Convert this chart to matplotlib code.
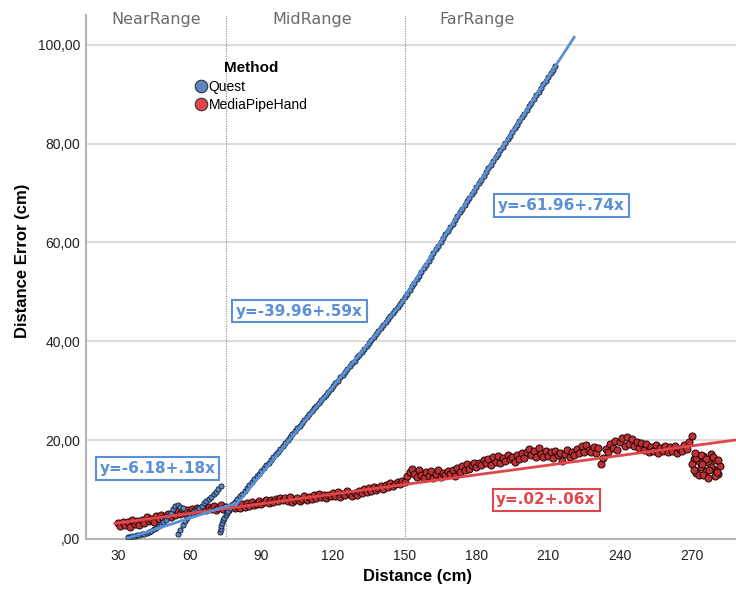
import numpy as np
import matplotlib
matplotlib.use("Agg")
from matplotlib import pyplot as plt
from matplotlib.lines import Line2D

# ---- data ----
# Quest, near range (three short branches)
quest_near_x = [34, 35, 36, 37, 38, 39, 40, 41, 42, 43, 44, 45, 46, 47, 48, 49, 50, 51, 52, 53, 54, 55, 56, 57,
                55, 56, 57, 58, 59, 60, 61, 62, 63, 64, 65, 66, 67, 68, 69, 70, 71, 72, 73,
                72.8, 73, 73.3, 73.6, 74, 74.5, 75, 75.5, 76, 77]
quest_near_y = [0.5, 0.5, 0.6, 0.7, 0.8, 0.9, 1.0, 1.1, 1.3, 1.5, 1.7, 2.0, 2.3, 2.7, 3.0, 3.4, 3.9, 4.6, 5.3, 6.0, 6.6, 6.9, 6.5, 6.2,
                1.0, 1.8, 2.8, 3.6, 4.3, 4.8, 5.2, 5.6, 5.9, 6.3, 6.7, 7.2, 7.7, 8.1, 8.5, 9.1, 9.6, 10.2, 10.8,
                1.4, 2.0, 2.6, 3.2, 3.8, 4.3, 4.8, 5.2, 5.6, 6.2]
# Quest, 78..213 cm
quest_x = np.arange(78, 214)
quest_y = [6.9, 7.4, 8.0, 8.6, 9.2, 9.8, 10.4, 11.0, 11.5, 12.1, 12.7, 13.2, 13.8, 14.3, 14.9, 15.4, 16.0, 16.5, 17.1, 17.7, 18.2, 18.8, 19.4,
           20.1, 20.6, 21.2, 21.8, 22.4, 22.9, 23.5, 24.1, 24.7, 25.2,
           25.8, 26.4, 27.0, 27.5, 28.1, 28.7, 29.2, 29.8, 30.4, 30.9,
           31.5, 32.0, 32.7, 33.2, 33.8, 34.4, 34.9, 35.6, 36.1, 36.8,
           37.3, 37.9, 38.5, 39.1, 39.6, 40.3, 40.9, 41.5, 42.1, 42.7,
           43.3, 43.9, 44.5, 45.1, 45.7, 46.3, 46.9, 47.6, 48.2, 48.9,
           49.6, 50.3, 51.1, 51.8, 52.6, 53.3, 54.1, 54.8, 55.5, 56.3,
           57.0, 57.8, 58.6, 59.3, 60.1, 60.8, 61.6, 62.3, 63.1, 63.8,
           64.6, 65.3, 66.1, 66.8, 67.5, 68.3, 69.0, 69.8, 70.5, 71.2,
           72.0, 72.7, 73.5, 74.2, 75.0, 75.7, 76.5, 77.2, 77.9, 78.7,
           79.4, 80.1, 80.9, 81.6, 82.4, 83.1, 83.8, 84.6, 85.3, 86.0,
           86.8, 87.5, 88.3, 89.0, 89.8, 90.5, 91.2, 92.0, 92.7, 93.4,
           94.2, 94.9, 95.6]

# MediaPipeHand, 30..282 cm
mph_x = np.arange(30, 283)
mph_y = [3.2, 2.6, 3.5, 2.9, 3.4, 2.5, 3.8, 3.1, 3.6, 2.8,
         3.9, 3.3, 4.4, 3.6, 4.1, 3.5, 4.6, 4.0, 4.8, 4.2,
         4.6, 5.1, 4.4, 5.3, 4.9, 5.6, 5.0, 5.8, 5.2, 5.9,
         5.5, 6.1, 5.4, 6.3, 5.7, 6.0, 6.5, 5.8, 6.4, 6.0,
         6.6, 5.9, 6.3, 6.8, 6.1, 6.5, 5.8, 6.4, 6.9, 6.2,
         6.7, 6.3, 7.0, 6.5, 7.2, 6.6, 7.4, 6.9, 7.1, 7.6,
         7.0, 7.5, 7.8, 7.2, 7.9, 7.4, 8.1, 7.6, 8.3, 7.8,
         8.2, 7.7, 8.5, 7.5, 7.9, 8.3, 7.6, 8.0, 8.6, 7.8,
         8.4, 8.0, 8.8, 8.2, 9.2, 8.5, 8.9, 8.3, 9.0, 8.6,
         9.3, 8.7, 9.5, 8.4, 9.1, 8.8, 9.8, 9.2, 8.6, 9.4,
         8.9, 9.7, 9.3, 10.1, 9.5, 10.3, 9.8, 10.5, 10.0, 10.4,
         10.8, 10.2, 11.0, 10.5, 11.3, 10.7, 11.1, 11.6, 11.2, 11.8,
         11.5, 12.8, 13.6, 14.2, 13.1, 12.5, 13.9, 12.9, 12.3, 13.5,
         12.7, 13.8, 12.4, 13.2, 14.0, 12.6, 13.4, 12.9, 13.7, 13.1,
         13.9, 12.8, 14.3, 13.6, 14.8, 13.9, 15.1, 14.2, 14.9, 15.3,
         14.6, 15.4, 14.9, 16.0, 15.3, 16.2, 15.0, 16.5, 15.6, 16.8,
         15.4, 16.3, 15.7, 17.0, 16.1, 16.6, 15.5, 16.9, 16.2, 17.3,
         16.4, 17.6, 18.2, 16.9, 17.8, 16.6, 18.4, 17.2, 16.5, 17.9,
         16.8, 17.5, 16.3, 17.8, 16.9, 17.4, 15.8, 17.1, 18.0, 16.6,
         17.7, 16.9, 18.3, 17.4, 18.8, 17.6, 19.0, 18.1, 17.5, 18.6,
         17.3, 18.4, 15.2, 16.4, 18.2, 17.6, 19.3, 18.5, 19.8, 18.0,
         19.6, 20.4, 18.8, 20.7, 19.2, 20.3, 18.9, 19.7, 18.4, 19.5,
         18.1, 19.2, 17.6, 18.7, 17.9, 19.0, 17.4, 18.5, 17.8, 18.9,
         17.5, 18.6, 17.9, 18.8, 17.4, 18.3, 17.8, 19.0, 18.2, 19.6,
         20.8, 16.2, 13.4, 15.8, 14.6, 16.7, 13.8, 15.5, 17.1, 14.2,
         15.9, 13.2, 14.8]
# extra readings in the drop-off cluster at the far end
mph_extra_x = [270, 271, 272, 273, 274, 275, 276, 277, 278, 279, 280, 281, 271.5, 274.5, 277.5, 280.5]
mph_extra_y = [15.1, 14.0, 16.3, 12.9, 17.0, 13.0, 16.1, 12.4, 14.5, 16.6, 12.8, 16.0, 17.3, 15.2, 14.0, 13.5]

# fit lines: (x start, x end, intercept, slope)
quest_fit_x0 = [33.6, 79.0, 150.0]
quest_fit_x1 = [79.7, 150.0, 221.2]
quest_fit_b = [-5.14, -39.96, -61.96]
quest_fit_m = [0.156, 0.59, 0.74]
mph_fit_x = [28.7, 289.0]
mph_fit_b, mph_fit_m = 1.28, 0.065

quest_labels = ["y=-6.18+.18x", "y=-39.96+.59x", "y=-61.96+.74x"]
quest_label_pos = [(46.5, 14.2), (105.9, 46.1), (215.6, 67.5)]
mph_label = "y=.02+.06x"
mph_label_pos = (209.1, 7.9)

range_names = ["NearRange", "MidRange", "FarRange"]
range_centers = [45.9, 111.2, 180.2]
range_bounds = [75, 150]

x_ticks = [30, 60, 90, 120, 150, 180, 210, 240, 270]
y_ticks = [0, 20, 40, 60, 80, 100]
y_tick_labels = [",00", "20,00", "40,00", "60,00", "80,00", "100,00"]

BLUE = "#5b8fd6"
RED = "#e0474c"
BLUE_DOT = "#5a86c8"
RED_DOT = "#bf3036"
GRID = "#dcdcdc"
SPINE = "#b4b4b4"

fig = plt.figure(figsize=(7.36, 5.89), dpi=100)
ax = fig.add_axes([0.1168, 0.0849, 0.8832, 0.8896])
ax.set_xlim(16.6, 288.6)
ax.set_ylim(0, 106)

for yt in y_ticks[1:]:
    ax.axhline(yt, color=GRID, lw=1.5, zorder=0)
for xb in range_bounds:
    ax.axvline(xb, color="#9a9a9a", lw=0.9, ls=(0, (1, 1)), zorder=0.5)

ax.scatter(mph_x, mph_y, s=26, c=RED_DOT, edgecolors="#1e0808", linewidths=0.7, zorder=2)
ax.scatter(mph_extra_x, mph_extra_y, s=26, c=RED_DOT, edgecolors="#1e0808", linewidths=0.7, zorder=2)
ax.scatter(quest_near_x, quest_near_y, s=14, c=BLUE_DOT, edgecolors="#0e1a2a", linewidths=0.6, zorder=3)
ax.scatter(quest_x, quest_y, s=14, c=BLUE_DOT, edgecolors="#0e1a2a", linewidths=0.6, zorder=3)

fx = np.array(mph_fit_x)
ax.plot(fx, mph_fit_b + mph_fit_m * fx, color=RED, lw=2.0, zorder=4)
for x0, x1, b, m in zip(quest_fit_x0, quest_fit_x1, quest_fit_b, quest_fit_m):
    fx = np.array([x0, x1])
    ax.plot(fx, b + m * fx, color=BLUE, lw=2.0, zorder=5, solid_capstyle="butt")

for txt, (tx, ty) in zip(quest_labels, quest_label_pos):
    ax.text(tx, ty, txt, color=BLUE, fontsize=11, fontweight="bold", family="DejaVu Sans",
            ha="center", va="center", zorder=6,
            bbox=dict(boxstyle="square,pad=0.25", fc="white", ec=BLUE, lw=1.5))
ax.text(mph_label_pos[0], mph_label_pos[1], mph_label, color=RED, fontsize=11, fontweight="bold",
        family="DejaVu Sans", ha="center", va="center", zorder=6,
        bbox=dict(boxstyle="square,pad=0.25", fc="white", ec=RED, lw=1.5))

for name, cx in zip(range_names, range_centers):
    ax.text(cx, 105.0, name, color="#6a6a6a", fontsize=11.5, family="DejaVu Sans",
            ha="center", va="center", clip_on=False)

ax.set_xticks(x_ticks)
ax.set_yticks(y_ticks)
ax.set_yticklabels(y_tick_labels)
ax.tick_params(length=0, labelsize=10, colors="#222222")
ax.tick_params(axis="x", pad=7)
ax.tick_params(axis="y", pad=4)
for lab in ax.get_xticklabels() + ax.get_yticklabels():
    lab.set_family("Liberation Sans")

ax.set_xlabel("Distance (cm)", fontsize=12, fontweight="bold", family="Liberation Sans")
ax.set_ylabel("Distance Error (cm)", fontsize=12, fontweight="bold", family="Liberation Sans")
ax.xaxis.set_label_coords(0.51, -0.058)
ax.yaxis.set_label_coords(-0.086, 0.53)

for side in ["top", "right"]:
    ax.spines[side].set_visible(False)
for side in ["left", "bottom"]:
    ax.spines[side].set_color(SPINE)
    ax.spines[side].set_linewidth(1.5)

handles = [Line2D([], [], ls="", marker="o", ms=9, mfc=BLUE_DOT, mec="#333333", mew=0.8),
           Line2D([], [], ls="", marker="o", ms=9, mfc=RED, mec="#333333", mew=0.8)]
leg = ax.legend(handles, ["Quest", "MediaPipeHand"], title="Method", frameon=False,
                loc="upper left", bbox_to_anchor=(0.16, 0.922), handlelength=0.8,
                handletextpad=0.15, labelspacing=0.32, borderaxespad=0,
                prop={"family": "Liberation Sans", "size": 10})
leg.get_title().set_fontweight("bold")
leg.get_title().set_fontsize(11)
leg.get_title().set_family("Liberation Sans")

fig.savefig("out.png", dpi=100)
